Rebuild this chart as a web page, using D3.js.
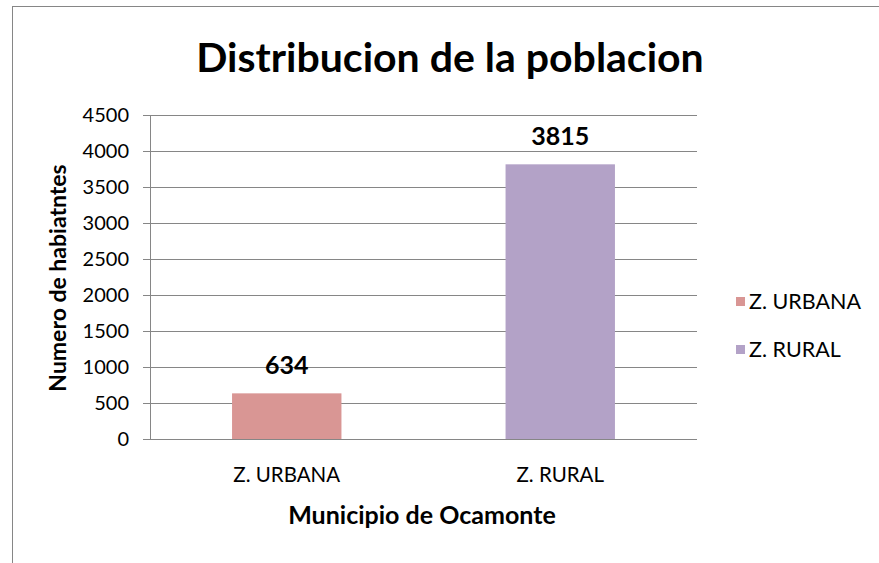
<!DOCTYPE html>
<html><head><meta charset="utf-8">
<script src="https://cdn.jsdelivr.net/npm/d3@7"></script>
<style>body{margin:0;background:#fff}svg{display:block}text{font-family:Lato,"Open Sans",sans-serif}</style>
</head><body><svg id="c" width="879" height="563"></svg>
<script>
const categories = ["Z. URBANA", "Z. RURAL"];
const values = [634, 3815];
const colors = ["#D99694", "#B3A2C7"];
const yTicks = [0, 500, 1000, 1500, 2000, 2500, 3000, 3500, 4000, 4500];
const title = "Distribucion de la poblacion";
const xTitle = "Municipio de Ocamonte";
const yTitle = "Numero de habiatntes";

const svg = d3.select("#c");
svg.append("rect").attr("x", 12.5).attr("y", 6.5).attr("width", 900).attr("height", 600)
  .attr("fill", "#fff").attr("stroke", "#868686").attr("stroke-width", 1);

const m = {l: 150, r: 697, t: 115, b: 439};
const x = d3.scaleBand().domain(categories).range([m.l, m.r]).paddingInner(0.6).paddingOuter(0.3);
const y = d3.scaleLinear().domain([0, 4500]).range([m.b, m.t]);

// gridlines
svg.append("g").selectAll("line").data(yTicks).join("line")
  .attr("x1", m.l - 7).attr("x2", m.r).attr("y1", d => Math.round(y(d)) + 0.5).attr("y2", d => Math.round(y(d)) + 0.5)
  .attr("stroke", "#868686").attr("stroke-width", 1);
svg.append("line").attr("x1", m.l + 0.5).attr("x2", m.l + 0.5).attr("y1", m.t).attr("y2", m.b + 1)
  .attr("stroke", "#868686");

// y tick labels
svg.append("g").selectAll("text").data(yTicks).join("text")
  .attr("x", 129).attr("y", d => y(d)).attr("dy", "0.36em").attr("text-anchor", "end")
  .attr("font-size", 20).attr("fill", "#000").text(d => d);

// bars
svg.append("g").selectAll("rect").data(values).join("rect")
  .attr("x", (d, i) => x(categories[i])).attr("width", x.bandwidth())
  .attr("y", d => y(d)).attr("height", d => y(0) - y(d))
  .attr("fill", (d, i) => colors[i]);

// data labels
svg.append("g").selectAll("text").data(values).join("text")
  .attr("x", (d, i) => x(categories[i]) + x.bandwidth() / 2).attr("y", d => y(d) - 19)
  .attr("text-anchor", "middle").attr("font-size", 25).attr("font-weight", "bold").text(d => d);

// x tick labels
svg.append("g").selectAll("text").data(categories).join("text")
  .attr("x", d => x(d) + x.bandwidth() / 2).attr("y", 482)
  .attr("text-anchor", "middle").attr("font-size", 20.5).text(d => d);

// titles
svg.append("text").attr("x", 450).attr("y", 72).attr("text-anchor", "middle")
  .attr("font-size", 41).attr("font-weight", "bold").text(title);
svg.append("text").attr("x", 422).attr("y", 524).attr("text-anchor", "middle")
  .attr("font-size", 25).attr("font-weight", "bold").text(xTitle);
svg.append("text").attr("transform", "translate(66,278) rotate(-90)").attr("text-anchor", "middle")
  .attr("font-size", 23).attr("font-weight", "bold").text(yTitle);

// legend
const lg = svg.append("g").selectAll("g").data(categories).join("g")
  .attr("transform", (d, i) => `translate(736,${297 + i * 48})`);
lg.append("rect").attr("width", 9).attr("height", 9).attr("fill", (d, i) => colors[i]);
lg.append("text").attr("x", 13).attr("y", 4.5).attr("dy", "0.36em").attr("font-size", 21.5).text(d => d);
</script></body></html>
